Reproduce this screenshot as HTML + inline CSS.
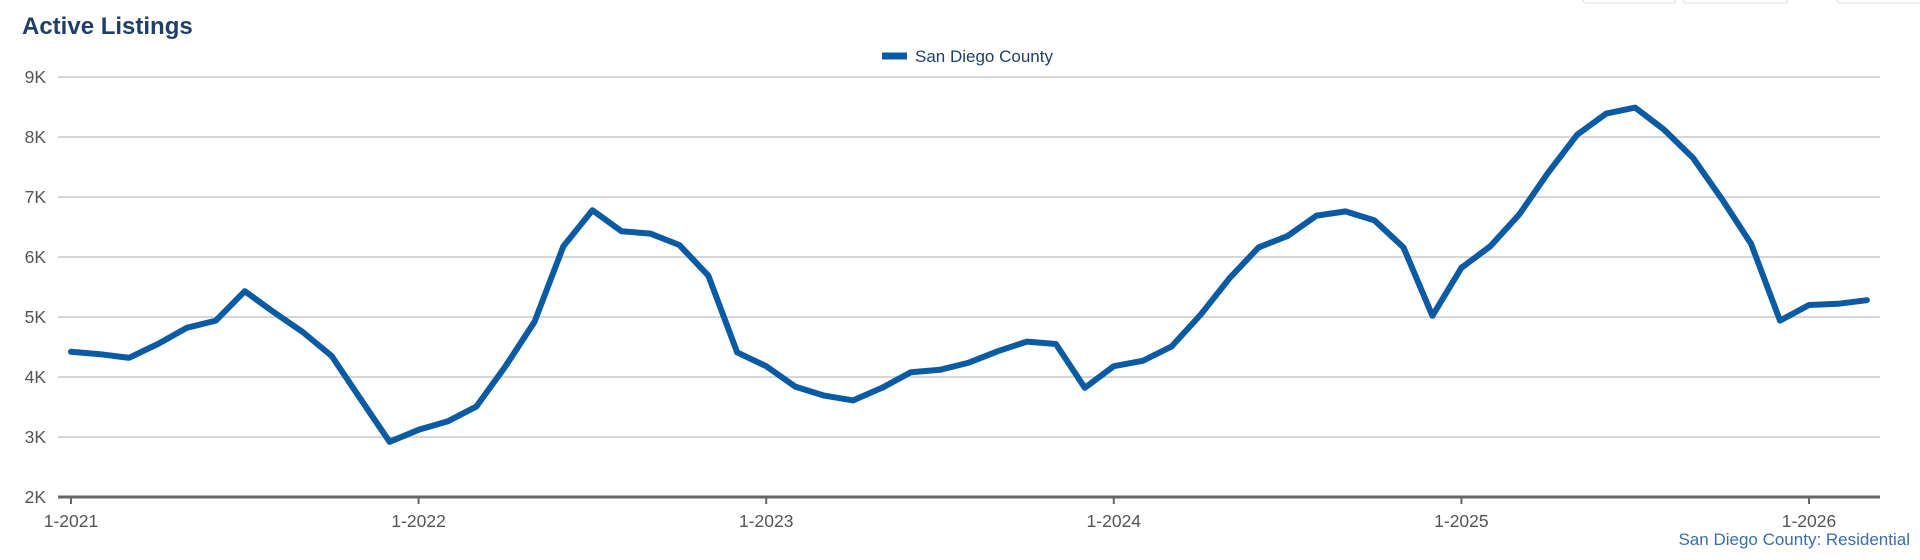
<!DOCTYPE html>
<html><head><meta charset="utf-8"><style>
body{margin:0;width:1920px;height:560px;background:#fff;overflow:hidden;font-family:"Liberation Sans",sans-serif;}
svg{position:absolute;left:0;top:0;}
</style></head><body>
<svg width="1920" height="560">
  <text x="22" y="34" font-size="24" font-weight="bold" fill="#1f3f66">Active Listings</text>
  <g>
    <rect x="1583" y="-6" width="93" height="9" rx="3" fill="#fff" stroke="#ddd"/>
    <rect x="1683" y="-6" width="105" height="9" rx="3" fill="#fff" stroke="#ddd"/>
    <rect x="1837" y="-6" width="90" height="9" rx="3" fill="#fff" stroke="#ddd"/>
  </g>
  <g>
    <line x1="882" y1="56" x2="907" y2="56" stroke="#0a5ba3" stroke-width="7"/>
    <text x="915" y="62" font-size="17" fill="#1f3f66">San Diego County</text>
  </g>
  <g id="grid"></g>
  <g id="axes"></g>
  <path id="line" fill="none" stroke="#0a5ba3" stroke-width="6" stroke-linejoin="round" stroke-linecap="round"/>
  <text x="1910" y="545" font-size="17" fill="#3a6ea5" text-anchor="end">San Diego County: Residential</text>
</svg>
<script>
const yTicks=[2,3,4,5,6,7,8,9];
const yTickLabels=["2K","3K","4K","5K","6K","7K","8K","9K"];
const xTickMonths=[0,12,24,36,48,60];
const xTickLabels=["1-2021","1-2022","1-2023","1-2024","1-2025","1-2026"];
const values=[4.42,4.38,4.32,4.55,4.82,4.94,5.43,5.08,4.75,4.35,3.63,2.92,
3.12,3.26,3.51,4.18,4.92,6.18,6.78,6.43,6.39,6.2,5.69,4.41,
4.18,3.84,3.69,3.61,3.82,4.08,4.12,4.24,4.43,4.59,4.55,3.82,
4.18,4.27,4.51,5.04,5.65,6.16,6.35,6.69,6.76,6.61,6.16,5.02,
5.82,6.18,6.71,7.41,8.04,8.39,8.49,8.12,7.65,6.96,6.22,4.94,
5.2,5.22,5.28];
const NS="http://www.w3.org/2000/svg";
const xs=m=>71+m*(1809-71)/60;
const ys=v=>497-(v-2)*60;
const grid=document.getElementById('grid'),axes=document.getElementById('axes');
yTicks.forEach((t,i)=>{
  if(i>0){const l=document.createElementNS(NS,'line');
  l.setAttribute('x1',58);l.setAttribute('x2',1880);l.setAttribute('y1',ys(t));l.setAttribute('y2',ys(t));
  l.setAttribute('stroke','#c8c8c8');l.setAttribute('stroke-width','1.5');
  
  
  grid.appendChild(l);}
  const tx=document.createElementNS(NS,'text');
  tx.setAttribute('x',46);tx.setAttribute('y',ys(t)+6);tx.setAttribute('text-anchor','end');
  tx.setAttribute('font-size','17.5');tx.setAttribute('fill','#555');tx.textContent=yTickLabels[i];
  
  
  axes.appendChild(tx);
});
const ax=document.createElementNS(NS,'line');
ax.setAttribute('x1',58);ax.setAttribute('x2',1880);ax.setAttribute('y1',ys(2));ax.setAttribute('y2',ys(2));
ax.setAttribute('stroke','#666');ax.setAttribute('stroke-width','3');


axes.appendChild(ax);
xTickMonths.forEach((m,i)=>{
  const t=document.createElementNS(NS,'line');
  t.setAttribute('x1',xs(m));t.setAttribute('x2',xs(m));t.setAttribute('y1',ys(2));t.setAttribute('y2',ys(2)+7);
  t.setAttribute('stroke','#666');t.setAttribute('stroke-width','2');
  
  
  axes.appendChild(t);
  const tx=document.createElementNS(NS,'text');
  tx.setAttribute('x',xs(m));tx.setAttribute('y',527);tx.setAttribute('text-anchor','middle');
  tx.setAttribute('font-size','17.5');tx.setAttribute('fill','#555');tx.textContent=xTickLabels[i];
  
  
  axes.appendChild(tx);
});
document.getElementById('line').setAttribute('d',values.map((v,i)=>(i?'L':'M')+xs(i).toFixed(1)+' '+ys(v).toFixed(1)).join(' '));
</script>
</body></html>
